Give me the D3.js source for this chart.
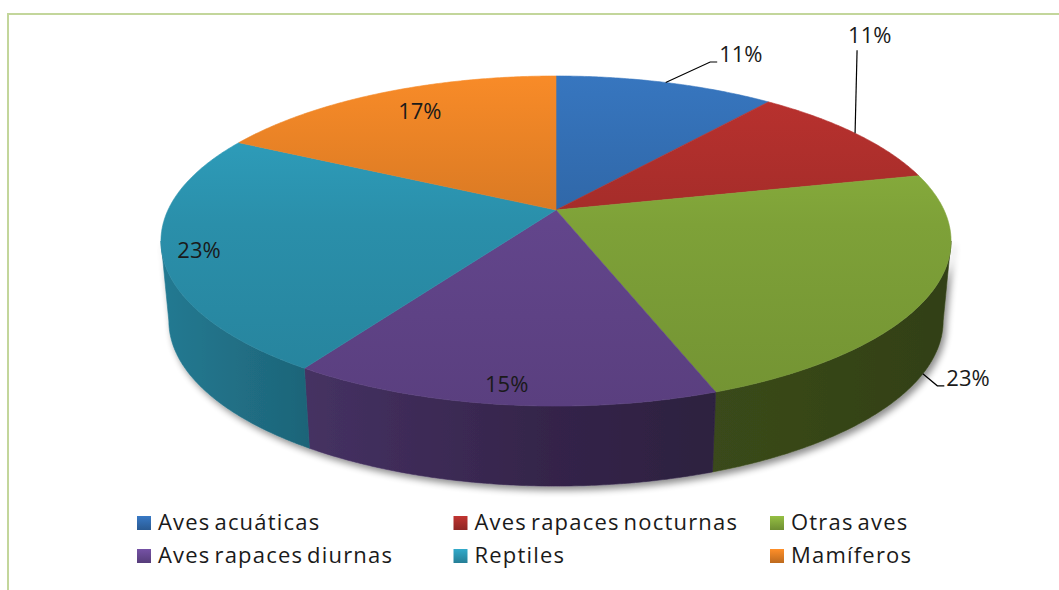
<!DOCTYPE html>
<html>
<head>
<meta charset="utf-8">
<script src="https://cdn.jsdelivr.net/npm/d3@7"></script>
<style>
  html, body { margin: 0; padding: 0; background: #ffffff; }
  svg { display: block; }
  text { font-family: "Open Sans", "Noto Sans", sans-serif; fill: #1a1a1a; }
</style>
</head>
<body>
<svg id="chart" width="1059" height="590"></svg>
<script>
// ---------------- data ----------------
const categories = ["Aves acuáticas", "Aves rapaces nocturnas", "Otras aves",
                    "Aves rapaces diurnas", "Reptiles", "Mamíferos"];
const values = [10.8, 10.6, 23.1, 14.7, 23.4, 17.4];
const baseColors = ["#3470B6", "#B3302D", "#8AB13E", "#6C4C99", "#2E9DBB", "#EC8426"];

// label placement (layout only)
const labelLayout = [
  { anchor: "top",    dx: 44.5, dy: -20.5, tail: 7, tx: 9,  ty: 0 },
  { anchor: "top",    dx: 2,    dy: -83,   tail: 0, tx: -9, ty: -7 },
  { anchor: "bottom", dx: 14.5, dy: 12,    tail: 7, tx: 9,  ty: 0 },
  { anchor: "in", r: 0.91, nx: 0,  ny: 0 },
  { anchor: "in", r: 0.91, nx: 0,  ny: 0 },
  { anchor: "in", r: 0.82, nx: 10, ny: -1 }
];

// ---------------- geometry ----------------
const CX = 556, CY = 210;     // convergence point of the slices
const A = 388, B = 159.2;     // projected radii factors
const K = 0.188;              // perspective factor
const DEPTH = 80, S = 0.98;   // pie thickness, bottom scale

function proj(theta, r, bottom) {
  const x = r * Math.sin(theta), z = -r * Math.cos(theta);
  const w = 1 - K * z;
  let X = A * x / w, Y = B * z / w;
  if (bottom) { X *= S; Y += DEPTH; }
  return [CX + X, CY + Y];
}

const svg = d3.select("#chart");
const defs = svg.append("defs");

// frame
svg.append("rect")
  .attr("x", 8).attr("y", 14).attr("width", 1070).attr("height", 600)
  .attr("fill", "none").attr("stroke", "#c3d69b").attr("stroke-width", 2);

const pie = d3.pie().sort(null).value(d => d);
const arcs = pie(values);
const total = d3.sum(values);
const pctText = values.map(v => Math.round(v / total * 100) + "%");

const scaleColor = (c, f) => {
  const col = d3.rgb(c);
  return d3.rgb(Math.min(255, col.r * f), Math.min(255, col.g * f), Math.min(255, col.b * f)).formatHex();
};

// gradients
const topStops = [[0, 1.05], [0.45, 0.91], [1, 0.83]];
const sideStops = [[0, 0.78], [0.19, 0.64], [0.5, 0.48], [0.696, 0.42], [1, 0.36]];
baseColors.forEach((c, i) => {
  const gt = defs.append("linearGradient").attr("id", "top" + i)
    .attr("gradientUnits", "userSpaceOnUse")
    .attr("x1", 0).attr("y1", 76).attr("x2", 0).attr("y2", 406);
  topStops.forEach(s => gt.append("stop").attr("offset", s[0]).attr("stop-color", scaleColor(c, s[1])));
  const gs = defs.append("linearGradient").attr("id", "side" + i)
    .attr("gradientUnits", "userSpaceOnUse")
    .attr("x1", 160).attr("y1", 0).attr("x2", 950).attr("y2", 0);
  sideStops.forEach(s => gs.append("stop").attr("offset", s[0]).attr("stop-color", scaleColor(c, s[1])));
  const gl = defs.append("linearGradient").attr("id", "leg" + i)
    .attr("x1", 0).attr("y1", 0).attr("x2", 0).attr("y2", 1);
  gl.append("stop").attr("offset", 0).attr("stop-color", scaleColor(c, 1.08));
  gl.append("stop").attr("offset", 1).attr("stop-color", scaleColor(c, 0.8));
});

// shadow filter
const f = defs.append("filter").attr("id", "shadow")
  .attr("x", "-10%").attr("y", "-10%").attr("width", "120%").attr("height", "130%");
f.append("feGaussianBlur").attr("in", "SourceAlpha").attr("stdDeviation", 3.5).attr("result", "b");
f.append("feOffset").attr("in", "b").attr("dx", 3).attr("dy", 4).attr("result", "o");
f.append("feComponentTransfer").attr("in", "o").attr("result", "s")
  .append("feFuncA").attr("type", "linear").attr("slope", 0.45);
const fm = f.append("feMerge");
fm.append("feMergeNode").attr("in", "s");
fm.append("feMergeNode").attr("in", "SourceGraphic");

const line = d3.line();
const STEP = Math.PI / 360;
function sampleAngles(a0, a1) {
  const n = Math.max(2, Math.ceil((a1 - a0) / STEP));
  return d3.range(n + 1).map(j => a0 + (a1 - a0) * j / n);
}

// side walls (visible front part only)
const sil1 = Math.acos(-K), sil2 = 2 * Math.PI - Math.acos(-K);
const sides = svg.append("g").attr("filter", "url(#shadow)");
arcs.forEach((a, i) => {
  const s0 = Math.max(a.startAngle, sil1), s1 = Math.min(a.endAngle, sil2);
  if (s1 <= s0) return;
  const angs = sampleAngles(s0, s1);
  const pts = angs.map(t => proj(t, 1, false))
    .concat(angs.slice().reverse().map(t => proj(t, 1, true)));
  sides.append("path").attr("d", line(pts) + "Z").attr("fill", `url(#side${i})`)
    .attr("stroke", `url(#side${i})`).attr("stroke-width", 0.6);
});

// top faces
const tops = svg.append("g");
arcs.forEach((a, i) => {
  const pts = [[CX, CY]].concat(sampleAngles(a.startAngle, a.endAngle).map(t => proj(t, 1, false)));
  tops.append("path").attr("d", line(pts) + "Z").attr("fill", `url(#top${i})`)
    .attr("stroke", `url(#top${i})`).attr("stroke-width", 0.6).attr("stroke-linejoin", "round");
});

// labels
const lab = svg.append("g");
arcs.forEach((a, i) => {
  const L = labelLayout[i];
  const mid = (a.startAngle + a.endAngle) / 2;
  if (L.anchor === "in") {
    const p = proj(mid, L.r, false);
    lab.append("text").attr("x", p[0] + L.nx).attr("y", p[1] + L.ny)
      .attr("text-anchor", "middle").attr("dominant-baseline", "central")
      .attr("font-size", 22).text(pctText[i]);
  } else {
    const p = proj(mid, 1, L.anchor === "bottom");
    const e = [p[0] + L.dx, p[1] + L.dy];
    const pts = [p, e, [e[0] + L.tail, e[1]]];
    lab.append("path").attr("d", line(pts)).attr("fill", "none")
      .attr("stroke", "#000").attr("stroke-width", 1.2);
    lab.append("text").attr("x", e[0] + L.tx).attr("y", e[1] + L.ty)
      .attr("text-anchor", "start").attr("font-size", 22).text(pctText[i]);
  }
});

// legend
const legX = d3.scalePoint().domain([0, 1, 2]).range([137, 770]);
const legY = d3.scalePoint().domain([0, 1]).range([516, 549]);
const leg = svg.append("g");
categories.forEach((c, i) => {
  const col = i % 3, row = Math.floor(i / 3);
  const x = legX(col), y = legY(row);
  leg.append("rect").attr("x", x).attr("y", y).attr("width", 14).attr("height", 14)
    .attr("fill", `url(#leg${i})`);
  leg.append("text").attr("x", x + 21).attr("y", y + 14)
    .attr("font-size", 22).attr("letter-spacing", 1.2).attr("word-spacing", -3).text(c);
});
</script>
</body>
</html>
